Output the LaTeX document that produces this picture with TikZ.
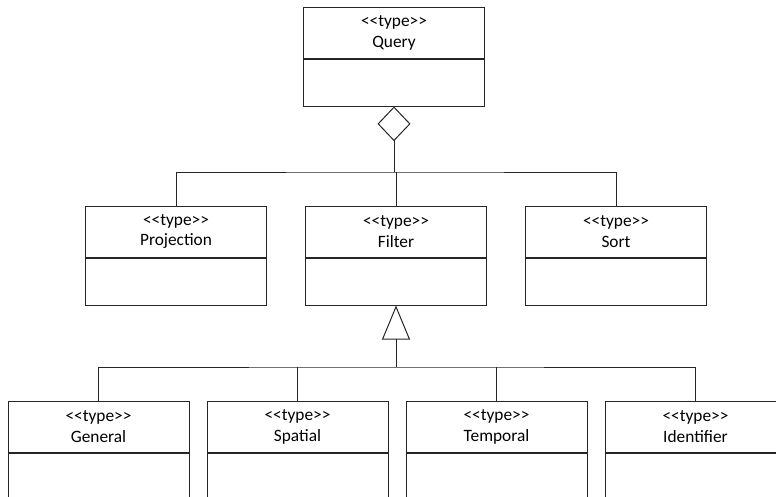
\documentclass[tikz,border=0pt]{standalone}
\usepackage{fontspec}
\setmainfont{Carlito}
\usetikzlibrary{arrows.meta, positioning}
\newcommand{\typeTag}{{<}{<}type{>}{>}}
\tikzset{
  typeHead/.style={draw, rectangle, minimum width=135.75pt, minimum height=38.25pt, inner sep=0pt, align=center},
  typeBody/.style={draw, rectangle, minimum width=135.75pt, minimum height=35.25pt, inner sep=0pt, below=0pt of #1},
  aggregation/.style={-{Diamond[open, length=26pt, width=24.75pt]}},
  generalization/.style={-{Triangle[open, length=25.5pt, width=21pt]}}
}

\begin{document}
\begin{tikzpicture}[x=0.75pt, y=-0.75pt, line width=0.75pt, draw=black!85, font=\fontsize{13}{15.75}\selectfont]
\useasboundingbox (0,0) rectangle (776,497);
\clip (0,0) rectangle (776,497);
\coordinate (aggBus) at (0,172);
\coordinate (genBus) at (0,367);
\node[typeHead] (queryHead) at (394,32.5) {\typeTag\\Query};
\node[typeBody=queryHead] (queryBody) {};
\node[typeHead] (filterHead) at (396,231.5) {\typeTag\\Filter};
\node[typeBody=filterHead] (filterBody) {};
\node[typeHead, left=28.5pt of filterHead] (projectionHead) {\typeTag\\Projection};
\node[typeBody=projectionHead] (projectionBody) {};
\node[typeHead, right=28.5pt of filterHead] (sortHead) {\typeTag\\Sort};
\node[typeBody=sortHead] (sortBody) {};
\node[typeHead] (generalHead) at (98.5,427) {\typeTag\\General};
\node[typeBody=generalHead, minimum height=60pt] (generalBody) {};
\node[typeHead, right=12.75pt of generalHead] (spatialHead) {\typeTag\\Spatial};
\node[typeBody=spatialHead, minimum height=60pt] (spatialBody) {};
\node[typeHead, right=12.75pt of spatialHead] (temporalHead) {\typeTag\\Temporal};
\node[typeBody=temporalHead, minimum height=60pt] (temporalBody) {};
\node[typeHead, right=12.75pt of temporalHead] (identifierHead) {\typeTag\\Identifier};
\node[typeBody=identifierHead, minimum height=60pt] (identifierBody) {};
\draw[aggregation] (queryBody.south |- aggBus) -- (queryBody);
\draw (projectionHead) |- (queryBody.south |- aggBus) -| (sortHead);
\draw (filterHead |- aggBus) -- (filterHead);
\draw[generalization] (filterBody.south |- genBus) -- (filterBody);
\draw (generalHead) |- (filterBody.south |- genBus) -| (identifierHead);
\draw (spatialHead) -- (spatialHead |- genBus);
\draw (temporalHead) -- (temporalHead |- genBus);
\end{tikzpicture}
\end{document}
